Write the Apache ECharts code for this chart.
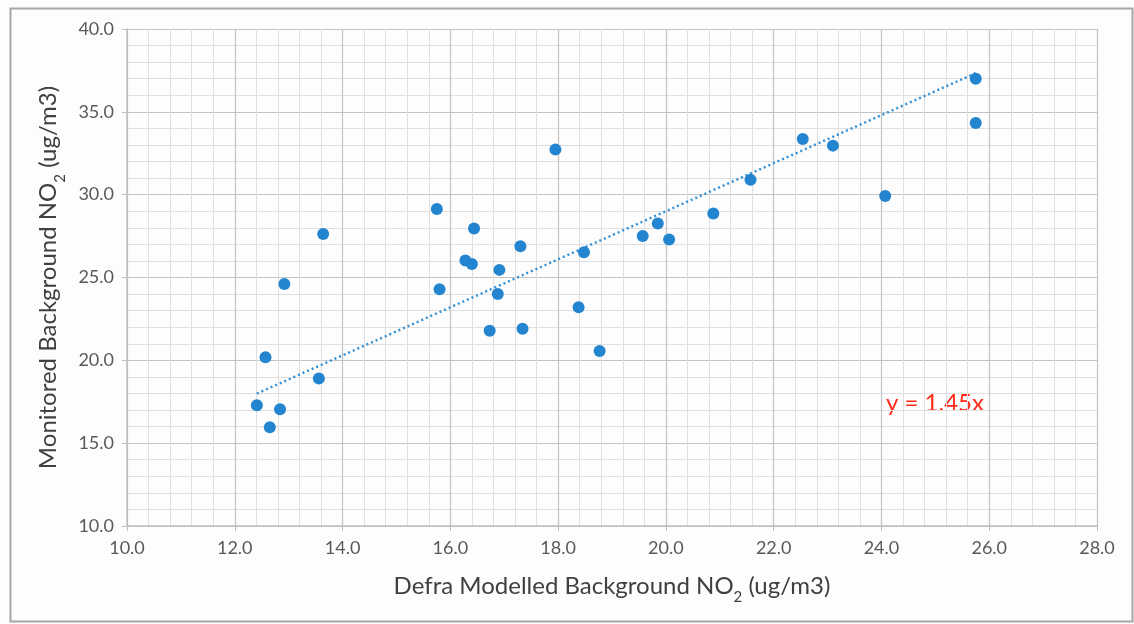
<!DOCTYPE html>
<html>
<head>
<meta charset="utf-8">
<style>
  html, body { margin: 0; padding: 0; background: #fff; }
  #chart { width: 1134px; height: 624px; }
</style>
<script src="https://cdn.jsdelivr.net/npm/echarts@6/dist/echarts.min.js"></script>
</head>
<body>
<div id="chart"></div>
<script>
// Defra modelled vs monitored background NO2 (ug/m3)
const modelled = [
  12.41, 12.84, 12.65, 12.57, 13.56, 12.92, 13.64, 15.75, 15.80, 16.44,
  16.28, 16.40, 16.91, 16.88, 17.30, 16.73, 17.34, 18.48, 18.38, 18.77,
  17.95, 19.57, 19.85, 20.06, 20.88, 21.57, 22.54, 23.10, 24.07, 25.75, 25.75
]
const monitored = [
  17.29, 17.05, 15.96, 20.19, 18.90, 24.61, 27.62, 29.13, 24.29, 27.96,
  26.02, 25.82, 25.46, 24.00, 26.89, 21.78, 21.90, 26.53, 23.20, 20.57,
  32.73, 27.51, 28.26, 27.29, 28.86, 30.90, 33.36, 32.96, 29.92, 37.00, 34.33
]
const slope = 1.45
const trendX = [12.41, 25.75]

const fuente = 'Lato, "Open Sans", sans-serif'
const puntos = modelled.map((x, i) => [x, monitored[i]])
const tendencia = trendX.map(x => [x, +(x * slope).toFixed(3)])

const richSub = {
  s: { fontSize: 15, verticalAlign: 'bottom', padding: [0, 0, -7, 0], color: '#404040', fontFamily: fuente }
}

const chart = echarts.init(document.getElementById('chart'))
chart.setOption({
  animation: false,
  backgroundColor: '#fdfdfd',
  grid: { left: 127, right: 37, top: 29, bottom: 98 },
  xAxis: {
    type: 'value',
    min: 10, max: 28, interval: 2,
    name: 'Defra Modelled Background NO{s|2} (ug/m3)',
    nameLocation: 'middle',
    nameGap: 48,
    nameTextStyle: { fontSize: 24, color: '#404040', fontFamily: fuente, rich: richSub },
    axisLine: { lineStyle: { color: '#bfbfbf', width: 1.5 } },
    axisTick: { show: true, length: 5, lineStyle: { color: '#bfbfbf' } },
    axisLabel: { color: '#595959', fontSize: 18, fontFamily: fuente, margin: 13, formatter: v => v.toFixed(1) },
    splitLine: { lineStyle: { color: '#c4c4c4', width: 1.2 } },
    minorTick: { show: false, splitNumber: 5 },
    minorSplitLine: { show: true, lineStyle: { color: '#dfdfdf', width: 1 } }
  },
  yAxis: {
    type: 'value',
    min: 10, max: 40, interval: 5,
    name: 'Monitored Background NO{s|2} (ug/m3)',
    nameLocation: 'middle',
    nameGap: 53,
    nameTextStyle: { fontSize: 24, color: '#404040', fontFamily: fuente, rich: richSub },
    axisLine: { show: true, lineStyle: { color: '#bfbfbf', width: 1.5 } },
    axisTick: { show: true, length: 5, lineStyle: { color: '#bfbfbf' } },
    axisLabel: { color: '#595959', fontSize: 18, fontFamily: fuente, margin: 13, formatter: v => v.toFixed(1) },
    splitLine: { lineStyle: { color: '#c4c4c4', width: 1.2 } },
    minorTick: { show: false, splitNumber: 5 },
    minorSplitLine: { show: true, lineStyle: { color: '#dfdfdf', width: 1 } }
  },
  series: [
    {
      type: 'line',
      data: tendencia,
      showSymbol: false,
      silent: true,
      lineStyle: { color: '#2e8fd6', width: 2.4, type: [2, 3] },
      z: 2
    },
    {
      type: 'scatter',
      data: puntos,
      symbolSize: 12,
      itemStyle: { color: '#2385cf', opacity: 1 },
      z: 3
    }
  ],
  graphic: [
    {
      type: 'rect',
      left: 8, top: 6,
      shape: { width: 1122, height: 613 },
      style: { fill: 'none', stroke: '#a6a6a6', lineWidth: 2 },
      silent: true
    },
    {
      type: 'text',
      left: 886, top: 391,
      style: { text: 'y = 1.45x', fill: '#ff2a1a', fontSize: 24, fontFamily: fuente }
    }
  ]
})
</script>
</body>
</html>
